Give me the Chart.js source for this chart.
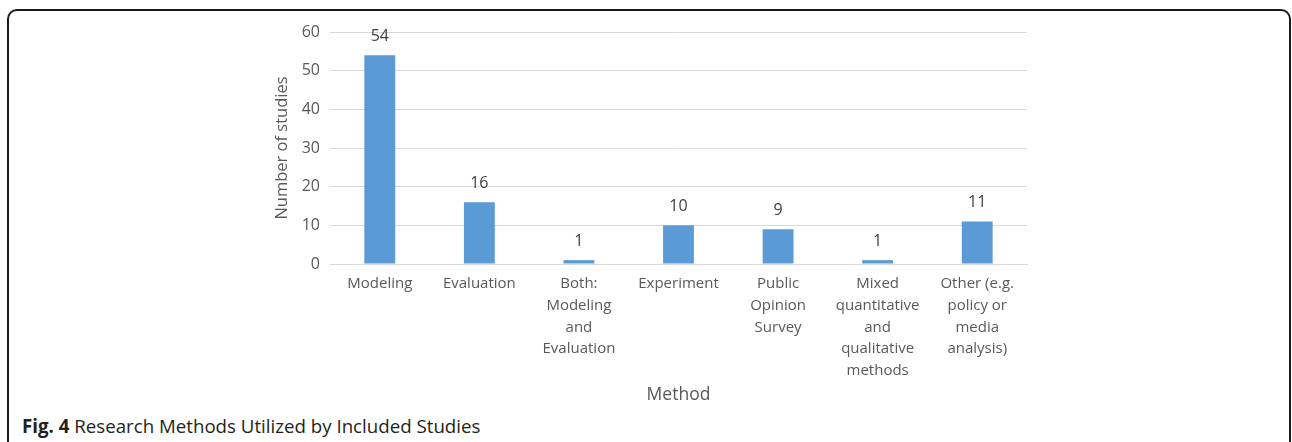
<!DOCTYPE html>
<html lang="en">
<head>
  <meta charset="UTF-8">
  <title>Research Methods Utilized by Included Studies</title>
  <script src="https://cdn.jsdelivr.net/npm/chart.js"></script>
  <style>
    html, body { margin: 0; padding: 0; background: #fff; }
    body { width: 1292px; height: 442px; position: relative; overflow: hidden; font-family: "Open Sans", sans-serif; }
    .frame {
      position: absolute; left: 7px; top: 9px; width: 1284px; height: 460px;
      border: 2px solid #1a1a1a; border-radius: 10px; box-sizing: border-box;
    }
    #methods-chart { position: absolute; left: 0; top: 0; }
    .caption {
      position: absolute; left: 22px; top: 413px;
      font-size: 18.7px; color: #231f20; white-space: nowrap;
    }
    .caption b { font-weight: 700; }
  </style>
</head>
<body>
  <div class="frame"></div>
  <canvas id="methods-chart" width="1292" height="410"></canvas>
  <div class="caption"><b>Fig. 4</b> Research Methods Utilized by Included Studies</div>

  <script>
    // Categories (split into lines) and study counts
    const methods = [
      ['Modeling'],
      ['Evaluation'],
      ['Both:', 'Modeling', 'and', 'Evaluation'],
      ['Experiment'],
      ['Public', 'Opinion', 'Survey'],
      ['Mixed', 'quantitative', 'and', 'qualitative', 'methods'],
      ['Other (e.g.', 'policy or', 'media', 'analysis)']
    ];
    const studyCounts = [54, 16, 1, 10, 9, 1, 11];
    const yTicks = [0, 10, 20, 30, 40, 50, 60];

    const textGray = '#595959';
    const font = 'Open Sans';

    // Value labels over every bar
    const barValues = {
      id: 'barValues',
      afterDatasetsDraw(chart) {
        const ctx = chart.ctx;
        const meta = chart.getDatasetMeta(0);
        ctx.save();
        ctx.font = '16px "' + font + '"';
        ctx.fillStyle = '#404040';
        ctx.textAlign = 'center';
        ctx.textBaseline = 'middle';
        meta.data.forEach((bar, i) => {
          ctx.fillText(chart.data.datasets[0].data[i], bar.x, bar.y - 19);
        });
        ctx.restore();
      }
    };

    new Chart(document.getElementById('methods-chart'), {
      type: 'bar',
      data: {
        labels: methods,
        datasets: [{
          label: 'Number of studies',
          data: studyCounts,
          backgroundColor: '#5b9bd5',
          borderWidth: 0,
          categoryPercentage: 1,
          barPercentage: 0.31
        }]
      },
      options: {
        responsive: false,
        devicePixelRatio: 1,
        animation: false,
        layout: { padding: { left: 268, right: 265, top: 32, bottom: 0 } },
        plugins: { legend: { display: false }, tooltip: { enabled: false } },
        scales: {
          x: {
            grid: { display: false },
            border: { color: '#d9d9d9', width: 1 },
            ticks: {
              color: textGray,
              font: { family: font, size: 15, lineHeight: 1.45 },
              padding: 1,
              maxRotation: 0,
              autoSkip: false
            },
            title: {
              display: true, text: 'Method', color: textGray,
              font: { family: font, size: 17.5 }
            },
            afterFit(scale) { scale.height = 146; }
          },
          y: {
            min: 0,
            max: 60,
            afterBuildTicks(scale) { scale.ticks = yTicks.map(v => ({ value: v })); },
            grid: { color: '#d9d9d9', drawTicks: false },
            border: { display: false },
            ticks: {
              color: textGray,
              font: { family: font, size: 16 },
              padding: 10
            },
            title: {
              display: true, text: 'Number of studies', color: textGray,
              font: { family: font, size: 16.5 }
            },
            afterFit(scale) { scale.width = 62; }
          }
        }
      },
      plugins: [barValues]
    });
  </script>
</body>
</html>
